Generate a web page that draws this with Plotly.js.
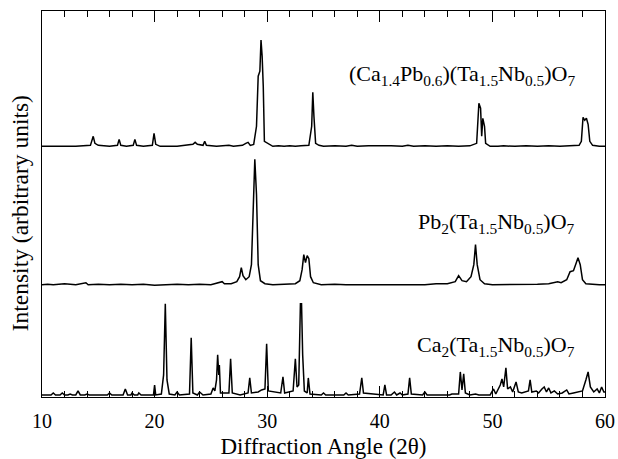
<!DOCTYPE html>
<html>
<head>
<meta charset="utf-8">
<script src="https://cdn.plot.ly/plotly-3.0.1.min.js"></script>
<style>html,body{margin:0;padding:0;background:#fff;}#chart{width:618px;height:459px;}</style>
</head>
<body>
<div id="chart"></div>
<script>
// Ca2(Ta1.5Nb0.5)O7 pattern (2θ, intensity above its baseline)
const caX = [10.0,10.8,11.0,11.2,11.6,11.8,12.0,12.3,12.5,12.7,13.0,13.2,13.4,13.8,14.0,14.2,15.8,16.0,16.2,17.2,17.4,17.6,17.9,18.0,18.2,18.5,18.6,18.8,19.9,20.0,20.1,20.6,20.8,20.95,21.1,21.3,21.8,22.0,22.2,23.1,23.25,23.4,23.8,24.0,24.3,25.0,25.2,25.35,25.5,25.6,25.7,25.75,25.85,26.6,26.75,26.9,27.6,28.3,28.45,28.6,29.2,29.5,29.8,29.95,30.1,31.2,31.4,31.55,32.3,32.5,32.65,32.8,32.95,33.05,33.15,33.3,33.55,33.65,33.8,34.8,35.0,35.2,36.8,37.0,37.2,38.2,38.4,38.55,40.3,40.45,40.6,41.0,41.3,41.5,41.8,42.0,42.5,42.65,42.8,43.8,44.0,44.2,46.2,46.4,47.0,47.15,47.3,47.45,47.6,48.0,48.5,48.8,49.8,50.1,50.3,50.5,50.7,50.85,51.0,51.2,51.35,51.6,51.8,52.1,52.3,52.6,53.2,53.35,53.5,53.9,54.1,54.4,54.6,54.8,55.0,55.2,55.5,55.8,56.2,56.6,56.8,57.2,57.6,58.0,58.3,58.5,58.7,59.0,59.3,59.5,59.7,59.9,60.0];
const caY = [0,0,2,0,0,2,0,0,1,0,0,4,0,0,1,0,0,2,0,0,6,0,0,2,0,0,2,0,0,10,0,1,20,91,15,1,0,3,0,1,57,2,0,3,0,1,7,4,15,40,20,30,2,2,36,2,0,2,17,2,3,5,6,51,4,2,18,2,4,36,8,10,91,91,40,4,2,17,1,0,2,0,0,2,0,1,17,2,0,10,0,0,3,0,2,0,1,17,1,0,3,0,0,1,1,23,5,21,2,0,1,0,0,6,1,6,10,16,8,27,6,8,3,13,3,2,4,15,3,4,2,6,8,3,7,2,4,1,2,5,1,2,3,4,15,23,8,3,6,2,8,3,3];

// Pb2(Ta1.5Nb0.5)O7 pattern
const pbX = [10,10.5,11,12,13,13.7,13.9,14.1,15,16,17,18,19,20,21,22,23,24,25,25.8,26.0,26.2,26.8,27.3,27.55,27.7,27.85,28.1,28.4,28.6,28.75,28.9,29.05,29.2,29.4,29.8,30.5,31.5,32.5,32.9,33.1,33.25,33.4,33.55,33.7,33.85,34.1,34.8,36,37,38,39,40,41,42,43,44,45,46,46.7,47.0,47.3,47.7,48.1,48.35,48.5,48.65,48.9,49.3,50,51,52,53,54,55,55.5,55.8,56.1,56.6,56.9,57.2,57.45,57.6,57.8,58.0,58.3,59,59.5,60];
const pbY = [0,0.5,0,1,0,1,2,0,0.5,0,0.5,0,0.5,-0.5,0,0.5,0,0.5,0,2,3,1,1,3,8,17,9,5,8,20,69,125,90,20,4,1,0,0.5,1,4,15,30,22,29,26,8,2,0,0.5,0,0,0.5,0,0.5,0,0.5,0,1,1,3,9,4,3,8,20,40,20,5,1,0,0,0,0.5,0.5,1,2,3,2,5,13,14,22,27,20,5,1,0,0,0];

// (Ca1.4Pb0.6)(Ta1.5Nb0.5)O7 pattern
const mixX = [10,11,12,13,14.3,14.45,14.55,14.7,15,16,16.7,16.85,17.0,17.5,18.1,18.25,18.4,19,19.8,19.95,20.1,20.5,21,22,23.4,23.6,23.8,24.3,24.45,24.6,25.5,26.2,26.6,27,27.8,28.1,28.3,28.5,28.8,29.05,29.2,29.35,29.45,29.55,29.65,29.75,29.9,30.1,30.5,31,31.5,32,32.5,33,33.7,33.95,34.05,34.15,34.3,34.6,35,36,37,37.5,38,39,40.5,41,42,42.5,43,44,45,46,47,48,48.6,48.8,48.95,49.05,49.15,49.3,49.4,49.8,50.5,51,52,53,54,55,56,57,57.7,57.9,58.05,58.2,58.35,58.5,58.65,58.9,59.5,60];
const mixY = [0,0,0.5,0,1,8,10,3,1,0,1,7,1,0,1,7,1,0,1,13,2,0,0,0,2,4,2,1,5,1,0,1,1,0,1,3,4,1,2,20,70,75,106,90,60,5,4,2,0,0.5,0,0.5,0,0.5,1,20,54,30,3,1,0,0.5,0,1,0,0.5,1,0.5,0,1,0,0.5,0,0.5,0,0.5,3,43,38,10,28,20,3,0,0,0.5,0,0.5,0,0.5,0,0.5,1,5,29,26,28,22,5,1,0,0];

const offsets = {ca: 2, pb: 112, mix: 250};
const labels = [
  {text: "(Ca<sub>1.4</sub>Pb<sub>0.6</sub>)(Ta<sub>1.5</sub>Nb<sub>0.5</sub>)O<sub>7</sub>", y: 321},
  {text: "Pb<sub>2</sub>(Ta<sub>1.5</sub>Nb<sub>0.5</sub>)O<sub>7</sub>", y: 174},
  {text: "Ca<sub>2</sub>(Ta<sub>1.5</sub>Nb<sub>0.5</sub>)O<sub>7</sub>", y: 51}
];
const xTicks = [10,20,30,40,50,60];
const xTitle = 'Diffraction Angle (2θ)';
const yTitle = 'Intensity (arbitrary units)';

const lineStyle = {color: '#000', width: 1.5};
const traces = [
  {x: caX, y: caY.map(v => v + offsets.ca), mode: 'lines', line: lineStyle, hoverinfo: 'skip'},
  {x: pbX, y: pbY.map(v => v + offsets.pb), mode: 'lines', line: lineStyle, hoverinfo: 'skip'},
  {x: mixX, y: mixY.map(v => v + offsets.mix), mode: 'lines', line: lineStyle, hoverinfo: 'skip'}
];

const FAM = 'Liberation Serif';
const f = (s) => ({family: FAM, size: s, color: '#000'});
const annots = labels.map(l => ({
  x: 57.5, y: l.y, xref: 'x', yref: 'y', xanchor: 'right', yanchor: 'middle',
  text: l.text, showarrow: false, font: f(22)
}));
annots.push({
  x: -0.039, y: 0.476, xref: 'paper', yref: 'paper', xanchor: 'center', yanchor: 'middle',
  text: yTitle, textangle: -90, showarrow: false, font: f(23.5)
});

const layout = {
  width: 618, height: 459,
  margin: {l: 42, r: 13, t: 11, b: 62},
  paper_bgcolor: '#fff', plot_bgcolor: '#fff',
  showlegend: false,
  font: f(20),
  xaxis: {
    range: [10, 60], tickvals: xTicks, ticktext: xTicks.map(String),
    ticks: 'inside', ticklen: 11, tickwidth: 1, tickcolor: '#000',
    minor: {dtick: 2, ticks: 'inside', ticklen: 6, tickwidth: 1, tickcolor: '#000', showgrid: false},
    showline: true, linecolor: '#000', linewidth: 1, mirror: 'ticks',
    showgrid: false, zeroline: false,
    tickfont: f(20),
    ticklabelstandoff: 6,
    title: {text: xTitle, font: f(23), standoff: 6}
  },
  yaxis: {
    range: [0, 385], showticklabels: false, ticks: '',
    showline: true, linecolor: '#000', linewidth: 1, mirror: true,
    showgrid: false, zeroline: false
  },
  annotations: annots
};

Plotly.newPlot('chart', traces, layout, {staticPlot: true, displayModeBar: false});
</script>
</body>
</html>
